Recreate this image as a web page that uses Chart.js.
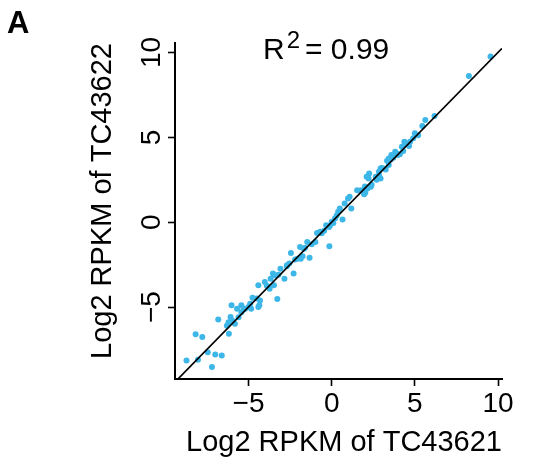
<!DOCTYPE html>
<html>
<head>
<meta charset="utf-8">
<script src="https://cdn.jsdelivr.net/npm/chart.js@4/dist/chart.umd.min.js"></script>
<style>
  html, body { margin: 0; padding: 0; background: #fff; }
  #wrap { width: 534px; height: 466px; position: relative; }
</style>
</head>
<body>
<div id="wrap"><canvas id="c" width="534" height="466"></canvas></div>
<script>
// ---- data ----
const xValues = [9.55,8.25,6.18,5.63,5.45,5.2,5.0,4.71,4.65,4.37,4.22,3.98,3.82,3.59,3.43,3.33,3.43,3.14,2.94,2.84,2.94,2.65,2.25,2.22,2.1,2.35,2.16,2.02,1.76,1.53,1.08,0.98,0.78,1.18,0.49,0.39,0.65,0.2,0,-0.16,-0.33,-0.14,-0.69,-0.88,-0.98,-1.47,-1.67,-1.9,-1.86,-2.06,-2.45,-1.33,-2.55,-2.69,-2.29,-2.84,-3.08,-3.43,-3.53,-3.67,-3.47,-4.02,-4.41,-3.73,-3.27,-4.76,-4.31,-4.35,-4.41,-4.9,-4.84,-5.2,-5.43,-5.69,-6.02,-5.43,-6.08,-5.98,-5.82,-6.18,-6.82,-8.18,-7.78,-7.45,-8.04,-8.73,-7.0,-6.61,-7.2,
  -1.9,-1.75,-2.2,-1.6,-1.2,-0.6,-0.45,-0.1,0.1,0.3,1.9,2.0,1.95,2.4,2.7,2.85,3.0,3.25,3.55,3.7,3.9,4.1,4.3,4.5,4.9,-5.0,-5.3,-4.5,-3.9,-3.2,-2.7,-6.3,-6.2,-5.6];
const yValues = [9.76,8.62,6.26,6.02,5.67,5.12,5.24,4.74,4.49,4.74,4.45,3.96,4.15,3.96,3.76,3.62,3.37,3.17,3.17,2.97,2.58,2.68,2.87,2.58,2.68,2.09,1.99,1.73,1.89,1.89,1.5,1.4,1.1,0.81,0.81,0.61,0.16,0.22,0.02,-0.28,-0.18,-1.42,-0.57,-0.63,-1.16,-1.16,-1.56,-1.46,-2.15,-2.15,-1.81,-2.09,-2.44,-2.54,-3.03,-3.33,-2.74,-3.13,-3.03,-3.33,-3.72,-3.52,-3.72,-3.92,-4.53,-4.45,-4.61,-4.9,-5.0,-4.8,-5.1,-5.1,-4.9,-5.1,-4.9,-5.3,-5.59,-5.79,-5.98,-6.57,-5.73,-6.61,-6.77,-7.66,-8.11,-8.15,-7.8,-7.85,-8.54,
  -2.1,-2.0,-2.2,-1.5,-1.3,-0.65,-0.5,-0.2,-0.05,0.4,1.85,2.1,1.65,2.2,2.5,2.75,3.2,3.1,3.7,3.8,4.05,4.0,4.2,4.6,4.95,-5.0,-5.15,-4.5,-3.75,-3.1,-2.6,-6.1,-5.9,-5.6];
const fitX = [-9.22, 10.24];
const fitY = [-9.22, 10.24];
const xTicks = [-5, 0, 5, 10];
const yTicks = [-5, 0, 5, 10];
const xTitle = 'Log2 RPKM of TC43621';
const yTitle = 'Log2 RPKM of TC43622';
const r2Text = '0.99';
const panelLabel = 'A';

const FONT = '"Liberation Sans", Arial, Helvetica, sans-serif';
const pts = xValues.map((x, i) => ({x: x, y: yValues[i]}));
const fitPts = fitX.map((x, i) => ({x: x, y: fitY[i]}));
const fmt = v => String(v).replace('-', '\u2212');

const annot = {
  id: 'annot',
  afterDraw(chart) {
    const ctx = chart.ctx;
    const a = chart.chartArea;
    ctx.save();
    ctx.fillStyle = '#000';
    ctx.textBaseline = 'alphabetic';
    ctx.textAlign = 'left';
    // R^2 label
    const bx = a.left + 88, by = a.top + 16;
    ctx.font = '30px ' + FONT;
    ctx.fillText('R', bx, by);
    const rw = ctx.measureText('R').width;
    ctx.font = '24px ' + FONT;
    ctx.fillText('2', bx + rw + 2, by - 11);
    const tw = ctx.measureText('2').width;
    ctx.font = '30px ' + FONT;
    ctx.fillText('= ' + r2Text, bx + rw + tw + 7, by);
    // panel label
    ctx.font = 'bold 31px ' + FONT;
    ctx.fillText(panelLabel, 7, 33);
    ctx.restore();
  }
};

new Chart(document.getElementById('c'), {
  type: 'scatter',
  data: {
    datasets: [
      {
        type: 'scatter', data: fitPts, showLine: true, borderColor: '#000', borderWidth: 1.6,
        pointRadius: 0, pointHoverRadius: 0, order: 0, fill: false
      },
      {
        data: pts, backgroundColor: '#3DB6E8', borderWidth: 0, pointRadius: 3,
        pointHoverRadius: 3, order: 1
      }
    ]
  },
  options: {
    responsive: false,
    animation: false,
    events: [],
    layout: { padding: { left: 0, right: 32, top: 43, bottom: 0 } },
    plugins: { legend: { display: false }, tooltip: { enabled: false } },
    scales: {
      x: {
        type: 'linear', min: -9.42, max: 10.24,
        afterBuildTicks: s => { s.ticks = xTicks.map(v => ({value: v})); },
        afterFit: s => { s.height = 87; },
        grid: { drawOnChartArea: false, drawTicks: true, tickLength: 7, tickColor: '#000', tickWidth: 1.6 },
        border: { color: '#000', width: 2 },
        ticks: { color: '#000', font: { family: FONT, size: 28 }, padding: 1, callback: v => fmt(v), maxRotation: 0, autoSkip: false },
        title: { display: true, text: xTitle, color: '#000', font: { family: FONT, size: 29 }, align: 'end', padding: { top: 0, bottom: 6 } }
      },
      y: {
        type: 'linear', min: -9.24, max: 10.56,
        afterBuildTicks: s => { s.ticks = yTicks.map(v => ({value: v})); },
        afterFit: s => { s.width = 175; },
        grid: { drawOnChartArea: false, drawTicks: true, tickLength: 7, tickColor: '#000', tickWidth: 1.6 },
        border: { color: '#000', width: 2 },
        ticks: { color: '#000', font: { family: FONT, size: 28 }, padding: 0, crossAlign: 'center', minRotation: 90, maxRotation: 90, callback: v => fmt(v), autoSkip: false },
        title: { display: true, text: yTitle, color: '#000', font: { family: FONT, size: 29 }, align: 'end', padding: { top: 86, bottom: 0 } }
      }
    }
  },
  plugins: [annot]
});
</script>
</body>
</html>
